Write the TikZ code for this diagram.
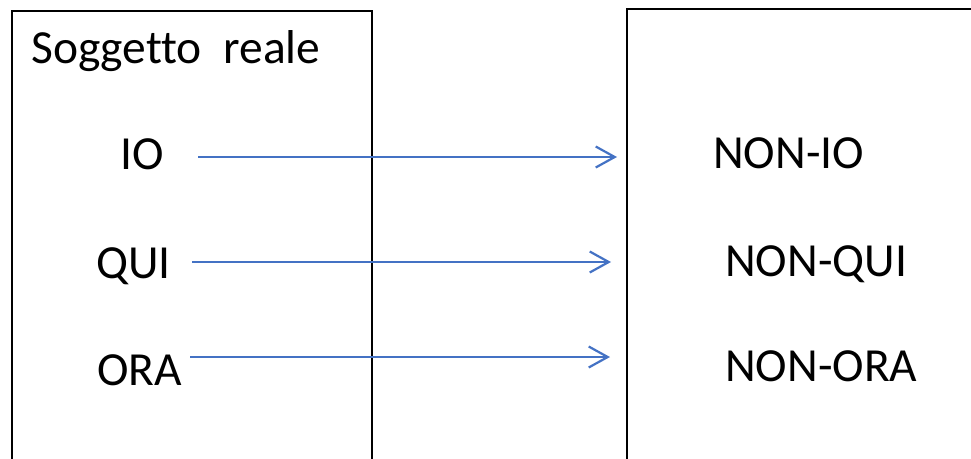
\documentclass[tikz,border=0pt]{standalone}
\usepackage{fontspec}
\setmainfont[Ligatures={NoCommon}]{Carlito}
\usetikzlibrary{arrows.meta}
\definecolor{linkblue}{HTML}{4472C4}
\tikzset{
  frame/.style={draw=black, line width=2.6pt},
  label/.style={inner sep=0pt, anchor=base west, font=\fontsize{47.5}{57}\selectfont},
  link/.style={draw=linkblue, line width=2.2pt, -{Straight Barb[length=19pt,width=21pt,line width=2.2pt]}}
}
\begin{document}
\begin{tikzpicture}[x=1pt,y=-1pt]
  \useasboundingbox (0,0) rectangle (971,458);
  \clip (0,0) rectangle (971,458);
  % the two frames, open past the bottom (and right) edge
  \draw[frame] (12,480) -- (12,11) -- (372,11) -- (372,480);
  \draw[frame] (627,480) -- (627,9) -- (990,9);
  % left column
  \node[label] (title) at (31,63) {Soggetto\ \ reale};
  \node[label] (io)  at (120,169) {IO};
  \node[label] (qui) at (96,278) {QUI};
  \node[label] (ora) at (97,385) {ORA};
  % right column
  \node[label] (nio)  at (713,168) {NON-IO};
  \node[label] (nqui) at (725,276) {NON-QUI};
  \node[label] (nora) at (725,381) {NON-ORA};
  % arrow end points
  \coordinate (a1s) at (198,157); \coordinate (a1e) at (617,157);
  \coordinate (a2s) at (192,262); \coordinate (a2e) at (611,262);
  \coordinate (a3s) at (190,357); \coordinate (a3e) at (610,357);
  \draw[link] (a1s) -- (a1e);
  \draw[link] (a2s) -- (a2e);
  \draw[link] (a3s) -- (a3e);
\end{tikzpicture}
\end{document}
